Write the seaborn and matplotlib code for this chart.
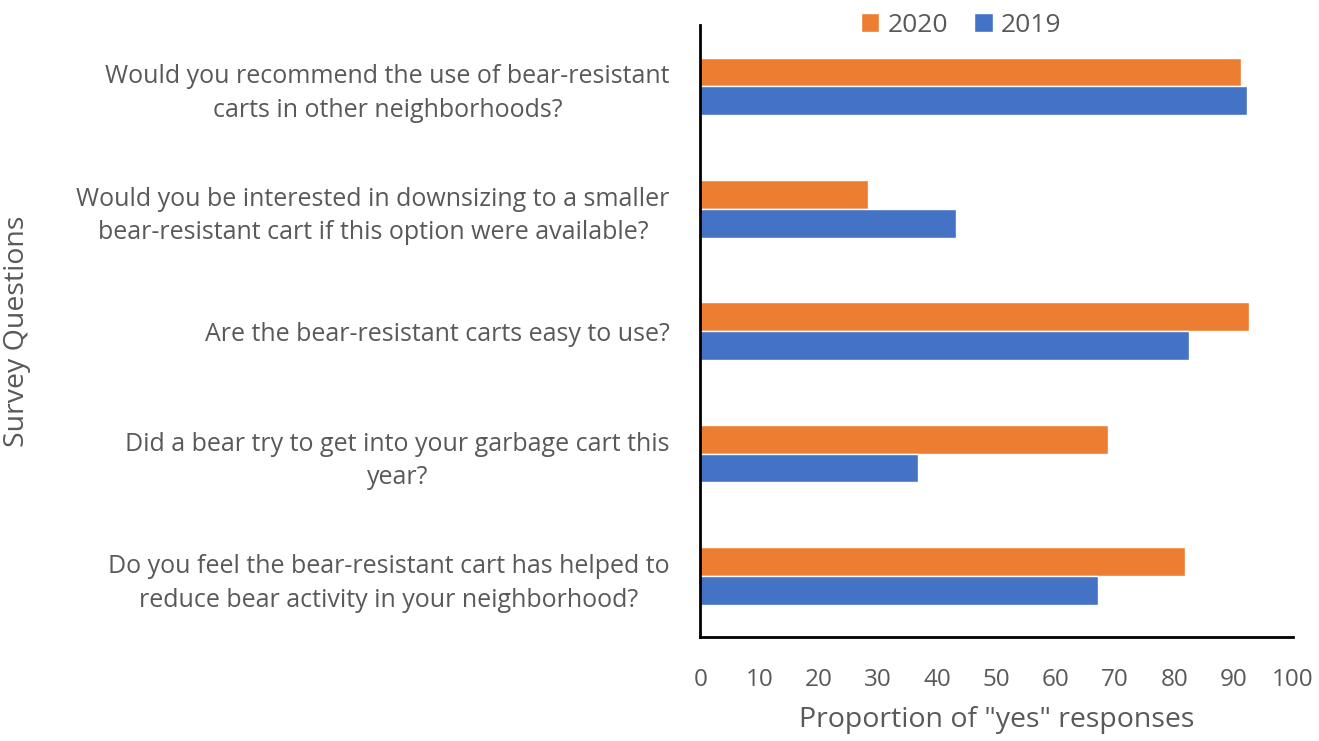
import pandas as pd
import numpy as np
from matplotlib import pyplot as plt
import seaborn as sns

# survey questions, top to bottom
questions = [
    "Would you recommend the use of bear-resistant\ncarts in other neighborhoods?",
    "Would you be interested in downsizing to a smaller\nbear-resistant cart if this option were available?",
    "Are the bear-resistant carts easy to use?",
    "Did a bear try to get into your garbage cart this\nyear?",
    "Do you feel the bear-resistant cart has helped to\nreduce bear activity in your neighborhood?",
]
yes_2020 = [91.2, 28.3, 92.7, 68.9, 81.9]
yes_2019 = [92.3, 43.2, 82.5, 36.7, 67.2]
years = ["2020", "2019"]
x_ticks = list(range(0, 101, 10))

df = pd.DataFrame({
    "question": questions * 2,
    "year": ["2020"] * len(questions) + ["2019"] * len(questions),
    "value": yes_2020 + yes_2019,
})

sns.set_style("white")
plt.rcParams['font.family'] = ['Open Sans', 'DejaVu Sans']
grey = "#595959"

fig = plt.figure(figsize=(13.19, 7.41), dpi=100)
ax = fig.add_axes([0.531, 0.140, 0.449, 0.826])

sns.barplot(data=df, y="question", x="value", hue="year", order=questions,
            hue_order=years, palette={"2020": "#ED7D31", "2019": "#4472C4"},
            orient="h", width=0.47, saturation=1, ax=ax, legend=True)

ax.set_xlim(0, 100)
ax.set_xticks(x_ticks)
ax.tick_params(axis="x", length=0, pad=22, labelsize=17.5, labelcolor=grey)
ax.tick_params(axis="y", length=0, pad=22, labelsize=18, labelcolor=grey)
for lbl in ax.get_yticklabels():
    lbl.set_multialignment("center")
    lbl.set_linespacing(1.45)

ax.set_xlabel('Proportion of "yes" responses', fontsize=20.5, color=grey, labelpad=10)
ax.set_ylabel("Survey Questions", fontsize=20.5, color=grey)
ax.yaxis.set_label_coords(-1.13, 0.5)

for side in ["top", "right"]:
    ax.spines[side].set_visible(False)
for side in ["left", "bottom"]:
    ax.spines[side].set_color("black")
    ax.spines[side].set_linewidth(2)

ax.legend(loc="lower center", bbox_to_anchor=(0.44, 0.962), ncol=2, frameon=False,
          fontsize=19, labelcolor=grey, handlelength=0.7, handleheight=0.7,
          handletextpad=0.3, columnspacing=1.0, borderaxespad=0)

fig.savefig("out.png", dpi=100)
